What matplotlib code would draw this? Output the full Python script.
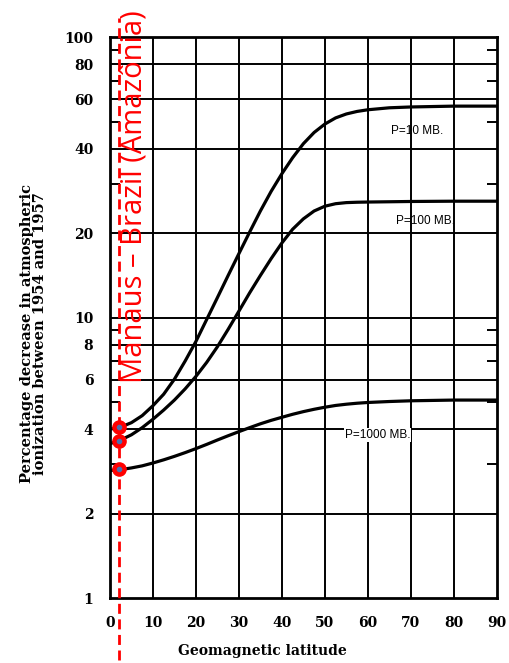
import numpy as np
import matplotlib.pyplot as plt

# curves (geomagnetic latitude vs % decrease)
lat = [0, 2.5, 5, 7.5, 10, 12.5, 15, 17.5, 20, 22.5, 25, 27.5, 30, 32.5, 35, 37.5,
       40, 42.5, 45, 47.5, 50, 52.5, 55, 57.5, 60, 65, 70, 80, 90]
pct_10 = [4.00, 4.07, 4.22, 4.47, 4.85, 5.33, 6.03, 7.00, 8.22, 9.84, 11.78, 14.13, 16.90,
          20.18, 23.99, 28.18, 32.58, 37.15, 41.69, 45.71, 48.98, 51.52, 53.21, 54.33,
          55.08, 55.98, 56.36, 56.75, 56.75]
pct_100 = [3.55, 3.66, 3.82, 4.05, 4.34, 4.68, 5.08, 5.57, 6.17, 6.92, 7.87, 9.08, 10.54,
           12.25, 14.13, 16.22, 18.45, 20.65, 22.49, 23.99, 24.95, 25.47, 25.70, 25.78,
           25.82, 25.88, 25.94, 26.0, 26.0]
pct_1000 = [2.85, 2.87, 2.91, 2.96, 3.03, 3.11, 3.20, 3.30, 3.41, 3.53, 3.66, 3.79, 3.92,
            4.05, 4.18, 4.30, 4.41, 4.52, 4.62, 4.71, 4.79, 4.86, 4.91, 4.95, 4.98, 5.02,
            5.05, 5.08, 5.08]

y_ticks = [1, 2, 4, 6, 8, 10, 20, 40, 60, 80, 100]
y_minor = [3, 5, 7, 9, 30, 50, 70, 90]
x_ticks = [0, 10, 20, 30, 40, 50, 60, 70, 80, 90]

manaus_lat = 2.1
manaus_pct = [4.07, 3.63, 2.88]

serif = ['DejaVu Serif']
sans = ['Liberation Sans', 'DejaVu Sans']

fig = plt.figure(figsize=(5.09, 6.63), dpi=100)
ax = fig.add_axes([0.216, 0.098, 0.76, 0.846])
ax.set_yscale('log')
ax.set_xlim(0, 90)
ax.set_ylim(1, 100)

for v in y_ticks[1:-1]:
    ax.axhline(v, color='black', lw=1.4, zorder=1)
for v in x_ticks[1:-1]:
    ax.axvline(v, color='black', lw=1.4, zorder=1)

for pct in [pct_10, pct_100, pct_1000]:
    ax.plot(lat, pct, color='black', lw=2.3, solid_capstyle='round', zorder=3)

ax.text(71.4, 46.2, 'P=10 MB.', family=sans, fontsize=8.5, ha='center', va='center', zorder=4)
ax.text(73.3, 22.1, 'P=100 MB.', family=sans, fontsize=8.5, ha='center', va='center', zorder=4)
ax.text(62.3, 3.81, 'P=1000 MB.', family=sans, fontsize=8.5, ha='center', va='center',
        bbox=dict(facecolor='white', edgecolor='none', pad=0.5), zorder=4)

ax.set_yticks(y_ticks)
ax.set_yticklabels([str(v) for v in y_ticks], family=serif, fontsize=10, fontweight='bold')
ax.set_yticks(y_minor, minor=True)
ax.set_yticklabels([], minor=True)
ax.set_xticks(x_ticks)
ax.set_xticklabels([str(v) for v in x_ticks], family=serif, fontsize=10, fontweight='bold')
ax.tick_params(axis='y', which='major', length=0, pad=12)
ax.tick_params(axis='x', which='major', length=0, pad=13)
ax.tick_params(which='minor', direction='in', length=7, width=1.4, left=True, right=True)
for s in ax.spines.values():
    s.set_linewidth(2)

ax.set_xlabel('Geomagnetic latitude', family=serif, fontsize=10, fontweight='bold')
ax.xaxis.set_label_coords(0.395, -0.082)
ax.set_ylabel('Percentage decrease in atmospheric\nionization between 1954 and 1957',
              family=serif, fontsize=10.5, fontweight='bold', linespacing=0.9)
ax.yaxis.set_label_coords(-0.163, 0.472)

# Manaus annotation in red
ax.plot([manaus_lat, manaus_lat], [0.6, 117], color='red', lw=2, ls=(0, (3.6, 2)),
        clip_on=False, zorder=5)
ax.plot([manaus_lat] * 3, manaus_pct, 'o', ms=9.5, color='red', zorder=6)
ax.plot([manaus_lat] * 3, manaus_pct, 'o', ms=3, color='#4a6fb0', zorder=7)
ax.text(5.6, 27, 'Manaus – Brazil (Amazônia)', color='red', rotation=90,
        family=['Open Sans', 'DejaVu Sans'], fontsize=21, ha='center', va='center', zorder=6,
        clip_on=False)

fig.savefig('out.png', dpi=100)
